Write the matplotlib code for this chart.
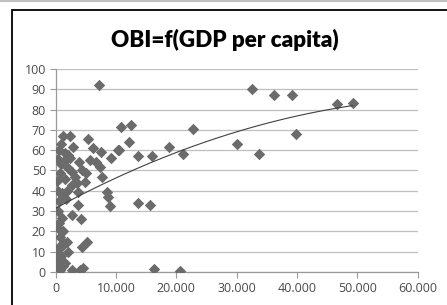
import numpy as np
import matplotlib
matplotlib.use("Agg")
import matplotlib.pyplot as plt
from matplotlib.patches import Rectangle
from matplotlib.lines import Line2D

# GDP per capita (x) and OBI score (y)
gdp = [32600, 36250, 39100, 46700, 49200, 22800, 30070, 39800, 33700, 21100,
       20600, 18800, 16350, 15600, 13600, 15900, 13700, 12500, 10900, 12200,
       10500, 7230, 1260, 2370, 5300, 6240, 7460, 430, 2090, 2920,
       9100, 10300, 4350, 710, 5690, 7300, 1540, 1540, 3480, 4860,
       2650, 8460, 1000, 3750, 7630, 9000, 8700, 3750, 2650, 4200,
       1000, 430, 710, 1260, 4310, 5140, 0, 2090, 170, 1540,
       710, 2650, 4030, 4580, 430, 300, 600, 200, 900, 500,
       1500, 800, 300, 800, 1200, 500, 1800, 1200, 300, 1800,
       200, 1000, 2300, 3200, 2000, 3900, 5000, 6600, 2700, 1700]
obi = [90, 87, 87, 82.6, 83.3, 70.3, 63, 68.1, 58, 58,
       0.3, 61.8, 1.5, 33, 34, 57.2, 57.2, 72.2, 71.5, 64,
       60, 92, 67, 67, 65.4, 61, 59.3, 55.5, 57.6, 61.4,
       56, 60, 50, 49, 55.3, 51.5, 58.5, 45.7, 43.7, 44.5,
       49.4, 39.6, 38.8, 39.6, 47, 32.5, 37, 33, 28.1, 26,
       26.5, 21.5, 17.4, 14.1, 12.5, 14.9, 10.8, 10, 6.7, 4.3,
       1, 1, 1, 1.8, 2.6, 30, 35, 45, 53, 60,
       55, 63, 12, 8, 20, 24, 15, 3, 40, 40,
       5, 13, 56, 47, 51, 54, 49, 54, 43, 36]

x_ticks = [0, 10000, 20000, 30000, 40000, 50000, 60000]
y_ticks = list(range(0, 101, 10))

fig = plt.figure(figsize=(4.47, 3.05), dpi=100)
ax = fig.add_axes([0.1246, 0.1082, 0.8099, 0.6656])

# outer chart frame + gray line at top
fig.patches.append(Rectangle((11.5/447, -0.1), 1.2, 1 - 9.5/305 + 0.1,
                             transform=fig.transFigure, fill=False,
                             edgecolor='black', linewidth=1.3))
fig.lines.append(Line2D([0, 1], [1 - 1/305, 1 - 1/305], transform=fig.transFigure,
                        color='#c0c0c0', linewidth=1.5))

ax.scatter(gdp, obi, marker='D', s=34, color='#6b6b6b', linewidths=0, zorder=3)

# 2nd order polynomial trendline
coef = np.polyfit(gdp, obi, 2)
xs = np.linspace(min(gdp), max(gdp), 200)
ax.plot(xs, np.polyval(coef, xs), color='#404040', linewidth=0.8, zorder=4)

ax.set_xlim(0, 60000)
ax.set_ylim(0, 100)
ax.set_xticks(x_ticks)
ax.set_yticks(y_ticks)
ax.set_xticklabels(['{:,.0f}'.format(v).replace(',', '.') for v in x_ticks])
ax.grid(True, axis='y', color='#bfbfbf', linewidth=0.9)
ax.set_axisbelow(True)
for s in ['top', 'right']:
    ax.spines[s].set_visible(False)
for s in ['left', 'bottom']:
    ax.spines[s].set_color('#999999')
    ax.spines[s].set_linewidth(0.9)
ax.tick_params(axis='both', colors='#999999', length=4, width=0.8,
               labelcolor='#4a4a4a', labelsize=9, pad=3)
for lab in ax.get_xticklabels() + ax.get_yticklabels():
    lab.set_family('Open Sans')

fig.text(225/447, 1 - 40/305, 'OBI=f(GDP per capita)', ha='center', va='center',
         fontsize=16.2, fontweight='heavy', family='Lato')

fig.savefig('out.png', dpi=100)
